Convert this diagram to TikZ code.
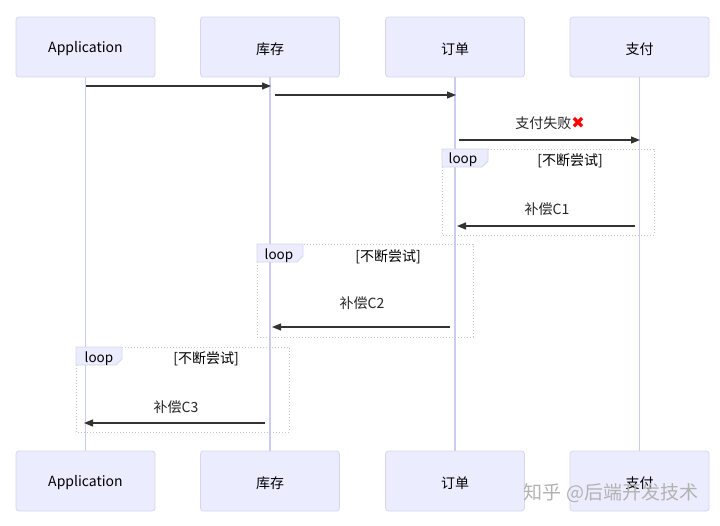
\documentclass[tikz,border=0pt]{standalone}
\usepackage{fontspec}
\setmainfont{Noto Sans CJK SC}
\newfontfamily\dejavu{DejaVu Sans}
\usetikzlibrary{arrows.meta}
\definecolor{actfill}{HTML}{ECECFF}
\definecolor{actdraw}{HTML}{D6D6F0}
\definecolor{lifecol}{HTML}{CCCCF0}
\definecolor{msgcol}{HTML}{333333}
\definecolor{loopcol}{HTML}{C4C4C4}
\begin{document}
\begin{tikzpicture}[x=1pt,y=-1pt,
  actor/.style={draw=actdraw,fill=actfill,rounded corners=3pt,minimum width=139pt,minimum height=60pt,inner sep=0pt,font=\fontsize{14}{16}\selectfont,line width=0.8pt},
  actortxt/.style={font=\fontsize{14}{16}\selectfont,inner sep=0pt},
  lifeline/.style={draw=lifecol,line width=1.5pt},
  msg/.style={draw=msgcol,line width=1.2pt,-{Triangle[length=9pt,width=7pt]}},
  msglabel/.style={font=\fontsize{14}{16}\selectfont,text=black!85,inner sep=0pt},
  loopframe/.style={draw=loopcol,line width=1pt,dotted},
  looptab/.style={fill=actfill,draw=actdraw,line width=0.8pt},
  looptxt/.style={font=\fontsize{13.5}{15}\selectfont,inner sep=0pt},
  condtxt/.style={font=\fontsize{14}{16}\selectfont,inner sep=0pt},
]
\useasboundingbox (0,0) rectangle (720,525);
\fill[white] (0,0) rectangle (720,525);

% lifelines
\coordinate (l1t) at (85.5,77); \coordinate (l1b) at (85.5,451);
\coordinate (l2t) at (270,77); \coordinate (l2b) at (270,451);
\coordinate (l3t) at (455,77); \coordinate (l3b) at (455,451);
\coordinate (l4t) at (639.5,77); \coordinate (l4b) at (639.5,451);
\draw[lifeline] (l1t) -- (l1b);
\draw[lifeline] (l2t) -- (l2b);
\draw[lifeline] (l3t) -- (l3b);
\draw[lifeline] (l4t) -- (l4b);

% actors
\node[actor] (a1t) at (85.5,47) {};
\node[actor] (a2t) at (270,47) {};
\node[actor] (a3t) at (455,47) {};
\node[actor] (a4t) at (639.5,47) {};
\node[actor] (a1b) at (85.5,481) {};
\node[actor] (a2b) at (270,481) {};
\node[actor] (a3b) at (455,481) {};
\node[actor] (a4b) at (639.5,481) {};
\node[actortxt] (a1tt) at ([yshift=-2pt]a1t.center) {Application};
\node[actortxt] (a2tt) at ([yshift=-2pt]a2t.center) {库存};
\node[actortxt] (a3tt) at ([yshift=-2pt]a3t.center) {订单};
\node[actortxt] (a4tt) at ([yshift=-2pt]a4t.center) {支付};
\node[actortxt] (a1bt) at ([yshift=-2pt]a1b.center) {Application};
\node[actortxt] (a2bt) at ([yshift=-2pt]a2b.center) {库存};
\node[actortxt] (a3bt) at ([yshift=-2pt]a3b.center) {订单};
\node[actortxt] (a4bt) at ([yshift=-2pt]a4b.center) {支付};

% messages
\coordinate (m1s) at (86,86); \coordinate (m1e) at (271,86);
\draw[msg] (m1s) -- (m1e);
\coordinate (m2s) at (275,95); \coordinate (m2e) at (456,95);
\draw[msg] (m2s) -- (m2e);
\coordinate (m3s) at (459,140); \coordinate (m3e) at (640,140);
\draw[msg] (m3s) -- (m3e);
\node[msglabel] (t3) at (550,123) {支付失败{\color{red}\dejavu\fontsize{16}{16}\selectfont\bfseries ✖}};

% loop 1
\draw[loopframe] (442,149) rectangle (654,235);
\filldraw[looptab] (442,149) -- (488,149) -- (488,161) -- (482,167) -- (442,167) -- cycle;
\node[looptxt] (lp1) at (463,160) {loop};
\node[condtxt] (c1) at (570,161) {[不断尝试]};
\coordinate (m4s) at (635,226); \coordinate (m4e) at (457,226);
\draw[msg] (m4s) -- (m4e);
\node[msglabel] (t4) at (547,209) {补偿C1};

% loop 2
\draw[loopframe] (257,244) rectangle (473,337);
\filldraw[looptab] (257,244) -- (303,244) -- (303,256) -- (297,262) -- (257,262) -- cycle;
\node[looptxt] (lp2) at (279,255.5) {loop};
\node[condtxt] (c2) at (388,256.5) {[不断尝试]};
\coordinate (m5s) at (450,327); \coordinate (m5e) at (272,327);
\draw[msg] (m5s) -- (m5e);
\node[msglabel] (t5) at (362,303) {补偿C2};

% loop 3
\draw[loopframe] (76,347) rectangle (289,432);
\filldraw[looptab] (76,347) -- (122,347) -- (122,359) -- (116,365) -- (76,365) -- cycle;
\node[looptxt] (lp3) at (99,358.5) {loop};
\node[condtxt] (c3) at (206,358.5) {[不断尝试]};
\coordinate (m6s) at (265,423); \coordinate (m6e) at (84,423);
\draw[msg] (m6s) -- (m6e);
\node[msglabel] (t6) at (176,407) {补偿C3};

% watermark
\node[font=\fontsize{19}{22}\selectfont,text=black!30,inner sep=0pt] (wm) at (611,493) {知乎 @后端开发技术};
\end{tikzpicture}
\end{document}
